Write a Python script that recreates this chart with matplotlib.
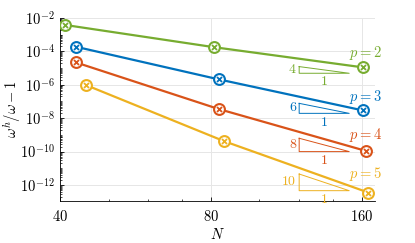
import numpy as np
import matplotlib.pyplot as plt

plt.rcParams['mathtext.fontset'] = 'cm'
plt.rcParams['font.family'] = 'serif'
plt.rcParams['font.serif'] = ['cmr10']
plt.rcParams['axes.formatter.use_mathtext'] = True

# measured errors, polynomial degree p = 2..5
orders = [2, 3, 4, 5]
N_vals = [[41, 81, 161],
          [43, 83, 161],
          [43, 83, 163],
          [45, 85, 165]]
err_vals = [[3.8e-3, 1.8e-4, 1.1e-5],
            [1.9e-4, 2.1e-6, 2.9e-8],
            [2.2e-5, 3.5e-8, 1.1e-10],
            [9.8e-7, 4.2e-10, 3.5e-13]]

# slope triangles
slopes = [4, 6, 8, 10]
tri_base = [10**-5.31, 10**-7.71, 10**-10.0, 10**-12.34]
tri_x = [120, 151]

colors = ['#77AC30', '#0072BD', '#D95319', '#EDB120']
label_y = [10**-4.1, 10**-6.71, 10**-9.0, 10**-11.36]

fig = plt.figure(figsize=(4.15, 2.43), dpi=100)
ax = fig.add_axes([0.1446, 0.1728, 0.7590, 0.7532])

for i, p in enumerate(orders):
    c = colors[i]
    ax.plot(N_vals[i], err_vals[i], '-', color=c, lw=1.6, zorder=3)
    ax.plot(N_vals[i], err_vals[i], 'o', ms=7.8, mfc='white', mec=c, mew=1.5, zorder=4)
    ax.plot(N_vals[i], err_vals[i], 'x', ms=3.6, mec=c, mew=1.3, zorder=5)

    x1, x2 = tri_x
    yb = tri_base[i]
    yt = yb * (x2 / x1)**slopes[i]
    ax.plot([x1, x1, x2, x1], [yt, yb, yb, yt], '-', color=c, lw=0.7, zorder=3)
    ax.text(x1 * 0.985, np.sqrt(yt * yb), str(slopes[i]), color=c,
            ha='right', va='center', fontsize=10)
    ax.text(np.sqrt(x1 * x2), yb * 0.65, '1', color=c,
            ha='center', va='top', fontsize=10)
    ax.text(162.5, label_y[i], '$p = %d$' % p, color=c,
            ha='center', va='center', fontsize=10.5)

ax.set_xscale('log', base=2)
ax.set_yscale('log')
ax.set_xlim(40, 170)
ax.set_ylim(1.1e-13, 1e-2)

ax.set_xticks([40, 80, 160])
ax.set_xticklabels(['$40$', '$80$', '$160$'])
ax.set_xticks([50, 60, 70, 100, 120, 140], minor=True)
ax.xaxis.set_minor_formatter(plt.NullFormatter())

ax.yaxis.set_major_locator(plt.FixedLocator([1e-12, 1e-10, 1e-8, 1e-6, 1e-4, 1e-2]))
ax.yaxis.set_minor_locator(plt.LogLocator(base=10, subs=np.arange(1, 10), numticks=50))
ax.yaxis.set_minor_formatter(plt.NullFormatter())

ax.tick_params(which='both', direction='in', labelsize=10.5, top=False, right=False)
ax.tick_params(axis='x', which='major', pad=6)
ax.tick_params(which='major', length=3, width=0.6)
ax.tick_params(which='minor', length=1.5, width=0.5)
ax.spines['top'].set_visible(False)
ax.spines['right'].set_visible(False)
ax.spines['left'].set_linewidth(0.6)
ax.spines['bottom'].set_linewidth(0.6)
ax.grid(True, which='major', color='#e6e6e6', lw=0.7)
ax.set_axisbelow(True)

ax.set_xlabel('$N$', fontsize=10.5, labelpad=2)
ax.set_ylabel(r'$\omega^h/\omega - 1$', fontsize=10.5)
ax.yaxis.label.set_va('center')
ax.yaxis.set_label_coords(-0.152, 0.5)

fig.savefig('out.png', dpi=100)
